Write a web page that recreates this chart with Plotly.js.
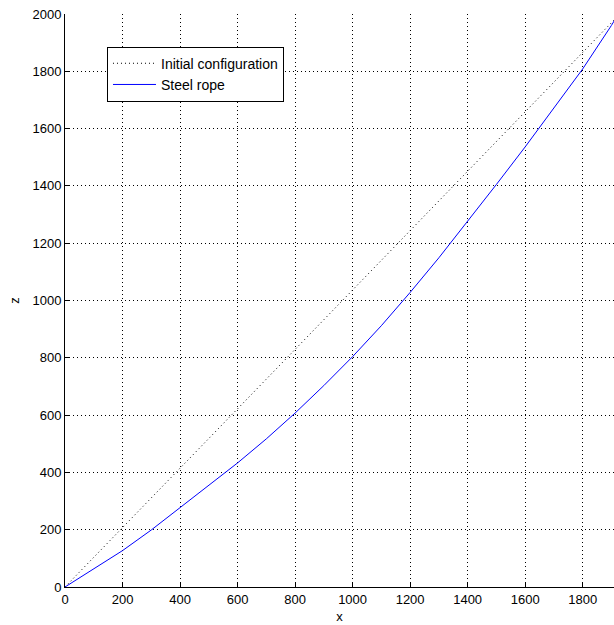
<!DOCTYPE html>
<html>
<head>
<meta charset="utf-8">
<script src="https://cdn.plot.ly/plotly-3.0.1.min.js"></script>
<style>html,body{margin:0;padding:0;background:#fff;overflow:hidden;}</style>
</head>
<body>
<div id="chart" style="width:614px;height:625px;"></div>
<script>
// Initial configuration: straight line between the anchor points
const initX = [0, 1915];
const initZ = [0, 1985];

// Steel rope (deformed shape)
const ropeX = [0, 100, 200, 300, 400, 500, 600, 700, 800, 900, 1000, 1100, 1200, 1300, 1400, 1500, 1600, 1700, 1800, 1900, 1915];
const ropeZ = [0, 62, 127, 199, 276, 353, 433, 517, 607, 703, 804, 912, 1028, 1149, 1276, 1405, 1536, 1671, 1808, 1960, 1985];

const xTicks = [0, 200, 400, 600, 800, 1000, 1200, 1400, 1600, 1800];
const zTicks = [0, 200, 400, 600, 800, 1000, 1200, 1400, 1600, 1800, 2000];

const font = {family: 'Liberation Sans, Arial, sans-serif', size: 13, color: '#000'};
const legendFont = {family: 'Liberation Sans, Arial, sans-serif', size: 14, color: '#000'};

const traces = [
  {x: initX, y: initZ, mode: 'lines', name: 'Initial configuration',
   line: {color: '#000', width: 1, dash: '1px,3px'}},
  {x: ropeX, y: ropeZ, mode: 'lines', name: 'Steel rope',
   line: {color: '#0000ff', width: 1}}
];

const axisCommon = {
  showline: true, linecolor: '#000', linewidth: 1,
  ticks: 'inside', ticklen: 5, tickcolor: '#000', tickwidth: 1,
  showgrid: true, gridcolor: '#000', gridwidth: 1, griddash: '1px,3px',
  zeroline: false, tickfont: font, mirror: false
};

const layout = {
  width: 614, height: 625,
  margin: {l: 65, r: 0, t: 14, b: 38},
  paper_bgcolor: '#fff', plot_bgcolor: '#fff',
  font: font,
  showlegend: true,
  legend: {x: 0.0765, y: 0.943, xanchor: 'left', yanchor: 'top',
           bgcolor: '#fff', bordercolor: '#000', borderwidth: 1,
           font: legendFont, tracegroupgap: 0, itemwidth: 43},
  xaxis: Object.assign({}, axisCommon, {
    range: [0, 1909], tickvals: xTicks, ticktext: xTicks.map(String),
    title: {text: 'x', font: font, standoff: 6}
  }),
  yaxis: Object.assign({}, axisCommon, {
    range: [0, 2000], tickvals: zTicks, ticktext: zTicks.map(String),
    title: {text: 'z', font: font, standoff: 9}
  })
};

Plotly.newPlot('chart', traces, layout, {displayModeBar: false, staticPlot: true});
</script>
</body>
</html>
